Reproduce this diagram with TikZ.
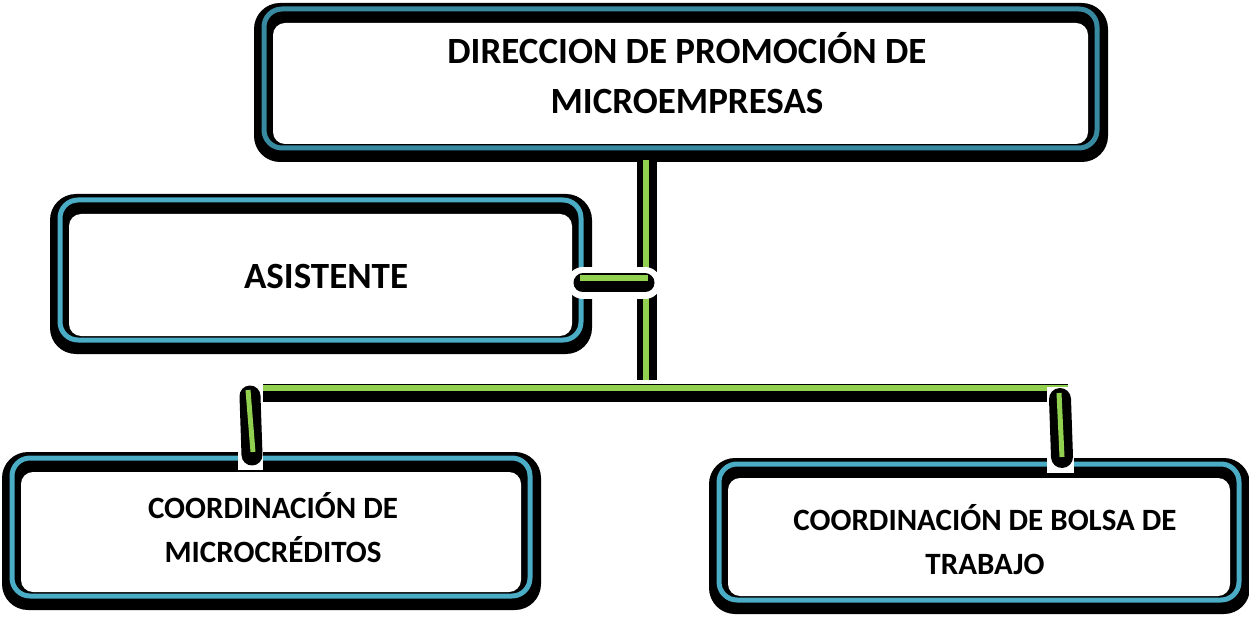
\documentclass[tikz,border=0pt]{standalone}
\usepackage{fontspec}
\setmainfont{Carlito}
\definecolor{topblue}{RGB}{56,138,160}
\definecolor{boxblue}{RGB}{75,172,198}
\definecolor{lgreen}{RGB}{146,208,80}
\newcommand\orgbox[5]{%
  \fill[black, rounded corners=26pt] ({#1-10},{#2-6}) rectangle ({#3+11},{#4+14});
  \fill[white, rounded corners=12pt] ({#1+9},{#2+14}) rectangle ({#3-9},{#4-4});
  \draw[#5, line width=5pt, rounded corners=18pt] (#1,#2) rectangle (#3,#4);
}
\tikzset{
  lbl/.style={font=\bfseries\fontsize{37}{50}\selectfont, align=center, inner sep=0pt},
  slbl/.style={font=\bfseries\fontsize{31}{44}\selectfont, align=center, inner sep=0pt},
  halo/.style={white, line width=32pt, line cap=round},
  blk/.style={black, line width=19pt},
  grn/.style={lgreen, line width=6pt},
}
\begin{document}
\begin{tikzpicture}[x=1pt,y=-1pt]
\useasboundingbox (0,0) rectangle (1249,617);
% boxes
\orgbox{264}{9}{1097}{148}{topblue}
\orgbox{60}{200}{581}{340}{boxblue}
\orgbox{12}{458}{530}{596}{boxblue}
\orgbox{719}{464}{1239}{600}{boxblue}
% texts
\node[lbl] (dir) at (687,73) {DIRECCION DE PROMOCIÓN DE\\MICROEMPRESAS};
\node[lbl] (asis) at (326,276) {ASISTENTE};
\node[slbl] (micro) at (273,528) {COORDINACIÓN DE\\MICROCRÉDITOS};
\node[slbl] (bolsa) at (985,540) {COORDINACIÓN DE BOLSA DE\\TRABAJO};
% connector coordinates
\coordinate (topB) at (646,160);
\coordinate (mid) at (646,380);
\coordinate (hL) at (262,393);
\coordinate (hR) at (1068,393);
\coordinate (sA) at (583,283);
\coordinate (sB) at (645,283);
\coordinate (lA) at (250,396);
\coordinate (lB) at (252,455);
\coordinate (rA) at (1060,399);
\coordinate (rB) at (1062,457);
% main vertical
\draw[blk, line width=20pt] ([xshift=1pt]topB) -- ([xshift=1pt]mid);
\draw[grn] (topB) -- (mid);
% horizontal
\draw[blk, line width=18pt] (hL) -- (hR);
\draw[grn] ([yshift=5pt]hL) -- ([yshift=5pt]hR);
% stub to asistente
\draw[halo] (sA) -- (sB);
\draw[blk, line cap=round] (sA) -- (sB);
\draw[grn] ([xshift=-3pt,yshift=5pt]sA) -- ([xshift=3pt,yshift=5pt]sB);
% drops
\fill[white] (238,384) rectangle (263,470);
\fill[white] (1047,387) rectangle (1074,473);
\draw[blk, line width=21pt, line cap=round] (lA) -- (lB);
\draw[lgreen, line width=5pt] ([yshift=6pt,xshift=-2pt]lA) -- ([yshift=3pt,xshift=1pt]lB);
\draw[blk, line width=22pt, line cap=round] (rA) -- (rB);
\draw[lgreen, line width=5pt] ([yshift=6pt,xshift=-1pt]rA) -- (rB);
\end{tikzpicture}
\end{document}
